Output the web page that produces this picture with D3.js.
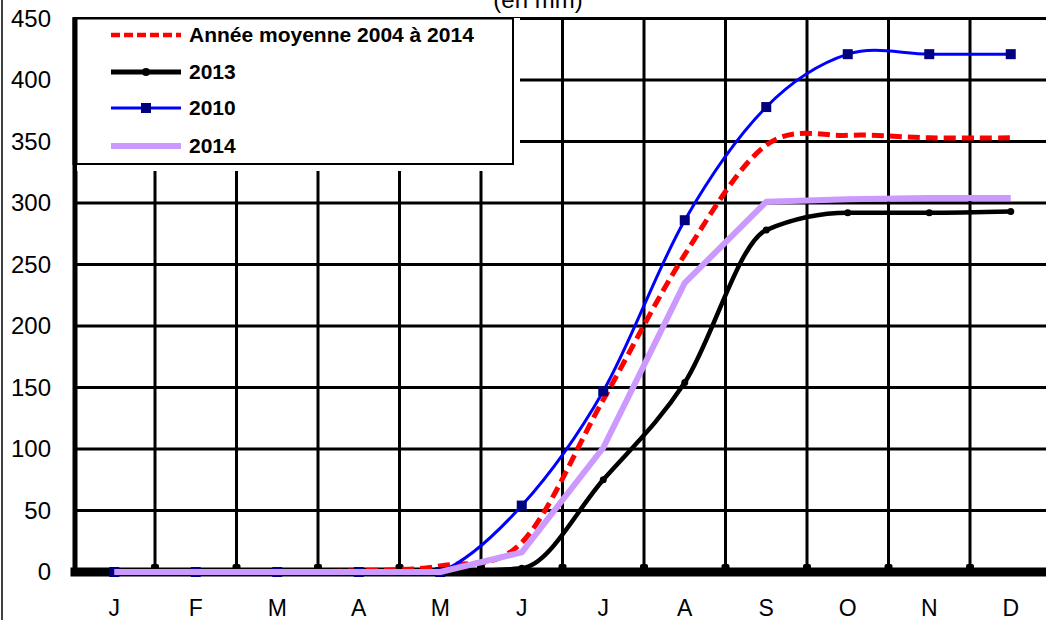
<!DOCTYPE html>
<html>
<head>
<meta charset="utf-8">
<script src="https://cdn.jsdelivr.net/npm/d3@7"></script>
<style>
  body { margin: 0; background: #fff; }
  svg { display: block; font-family: "Liberation Sans", Arial, sans-serif; }
</style>
</head>
<body>
<div id="chart"></div>
<script>
// months and ticks
const months = ['J', 'F', 'M', 'A', 'M', 'J', 'J', 'A', 'S', 'O', 'N', 'D'];
const yTicks = [0, 50, 100, 150, 200, 250, 300, 350, 400, 450];

// cumulative values (en mm)
const moyenne = [0, 0, 0, 1, 5, 24, 140, 258, 347, 355, 353, 353];
const annee2013 = [0, 0, 0, 0, 0, 3, 75, 154, 278, 292, 292, 293];
const annee2010 = [0, 0, 0, 0, 0, 54, 147, 286, 378, 421, 421, 421];
const annee2014 = [0, 0, 0, 0, 0, 16, 101, 235, 301, 303, 304, 304];

const legendLabels = ['Année moyenne 2004 à 2014', '2013', '2010', '2014'];

var W = 1046, H = 620;
var svg = d3.select('#chart').append('svg').attr('width', W).attr('height', H);

var x = d3.scaleLinear().domain([0, 12]).range([73.5, 1051.5]);
var y = d3.scaleLinear().domain([0, 450]).range([572, 18.5]);

// keep smoothed curves from dipping under the x axis
svg.append('defs').append('clipPath').attr('id', 'plotClip')
    .append('rect').attr('x', 0).attr('y', 0).attr('width', W).attr('height', y(0) + 1);

// outer border on the left
svg.append('line').attr('x1', 2).attr('x2', 2).attr('y1', 0).attr('y2', H)
    .attr('stroke', '#000').attr('stroke-width', 1.5);

// title (cut at the top, as in the original)
svg.append('text').attr('x', 538).attr('y', 8).attr('text-anchor', 'middle')
    .style('font-size', '24px').text('(en mm)');

// grid
var grid = svg.append('g');
grid.selectAll('.hline').data(yTicks.slice(1)).enter().append('line')
    .attr('x1', x(0)).attr('x2', W)
    .attr('y1', d => y(d)).attr('y2', d => y(d))
    .attr('stroke', '#000').attr('stroke-width', 3);
grid.selectAll('.vline').data(d3.range(1, 12)).enter().append('line')
    .attr('x1', d => x(d)).attr('x2', d => x(d))
    .attr('y1', y(0)).attr('y2', y(450))
    .attr('stroke', '#000').attr('stroke-width', 3);
// little tick feet on the x axis
grid.selectAll('.tick').data(d3.range(1, 12)).enter().append('rect')
    .attr('x', d => x(d) - 4).attr('y', y(0) - 8).attr('width', 8).attr('height', 8)
    .attr('rx', 2).attr('fill', '#000');

// axis labels
svg.append('g').selectAll('text').data(yTicks).enter().append('text')
    .attr('x', 51).attr('y', d => y(d) + 8).attr('text-anchor', 'end')
    .style('font-size', '24px').text(d => d);
svg.append('g').selectAll('text').data(months).enter().append('text')
    .attr('x', (d, i) => x(i + 0.5)).attr('y', 616).attr('text-anchor', 'middle')
    .style('font-size', '23px').text(d => d);

// x axis (thick)
svg.append('line').attr('x1', x(0) - 3).attr('x2', W).attr('y1', y(0)).attr('y2', y(0))
    .attr('stroke', '#000').attr('stroke-width', 9);

function drawSerie(data, color, width, curve, dash) {
    var line = d3.line().x((d, i) => x(i + 0.5)).y(d => y(d)).curve(curve);
    var p = svg.append('path').datum(data).attr('d', line)
        .attr('fill', 'none').attr('stroke', color).attr('stroke-width', width)
        .attr('stroke-linejoin', 'round');
    if (dash) p.attr('stroke-dasharray', dash);
    return p;
}

var smooth = d3.curveCardinal.tension(0);

drawSerie(moyenne, '#ff0000', 5, smooth, '12,6');
drawSerie(annee2013, '#000', 4.5, d3.curveMonotoneX);
svg.append('g').selectAll('circle').data(annee2013).enter().append('circle')
    .attr('cx', (d, i) => x(i + 0.5)).attr('cy', d => y(d)).attr('r', 3.5).attr('fill', '#000');
drawSerie(annee2010, '#0000ff', 3, smooth).attr('clip-path', 'url(#plotClip)');
svg.append('g').selectAll('rect').data(annee2010).enter().append('rect')
    .attr('x', (d, i) => x(i + 0.5) - 5).attr('y', d => y(d) - 5)
    .attr('width', 10).attr('height', 10).attr('fill', '#000080');
drawSerie(annee2014, '#cc99ff', 6, d3.curveLinear);

// y axis (thick)
svg.append('line').attr('x1', 75).attr('x2', 75).attr('y1', y(450) - 1).attr('y2', y(0) + 4)
    .attr('stroke', '#000').attr('stroke-width', 5);

// legend
var leg = svg.append('g');
leg.append('rect').attr('x', 77).attr('y', 18).attr('width', 443).attr('height', 153).attr('fill', '#fff');
leg.append('rect').attr('x', 75.5).attr('y', 18.5).attr('width', 437.5).attr('height', 145.5)
    .attr('fill', '#fff').attr('stroke', '#000').attr('stroke-width', 2);
leg.append('line').attr('x1', 75).attr('x2', 75).attr('y1', 17).attr('y2', 165)
    .attr('stroke', '#000').attr('stroke-width', 5);

var legStyles = [
    { color: '#ff0000', w: 4.5, dash: '9,4' },
    { color: '#000', w: 5, marker: 'circle' },
    { color: '#0000ff', w: 3, marker: 'square' },
    { color: '#cc99ff', w: 6 }
];
var rowY = [35, 72, 108, 146];
legendLabels.forEach(function(label, i) {
    var s = legStyles[i];
    var l = leg.append('line').attr('x1', 111).attr('x2', 181).attr('y1', rowY[i]).attr('y2', rowY[i])
        .attr('stroke', s.color).attr('stroke-width', s.w);
    if (s.dash) l.attr('stroke-dasharray', s.dash);
    if (s.marker === 'circle') {
        leg.append('circle').attr('cx', 146).attr('cy', rowY[i]).attr('r', 4).attr('fill', '#000');
    }
    if (s.marker === 'square') {
        leg.append('rect').attr('x', 141).attr('y', rowY[i] - 5).attr('width', 10).attr('height', 10)
            .attr('fill', '#000080');
    }
    leg.append('text').attr('x', 189).attr('y', rowY[i] + 7)
        .style('font-size', '21px').style('font-weight', 'bold').text(label);
});
</script>
</body>
</html>
